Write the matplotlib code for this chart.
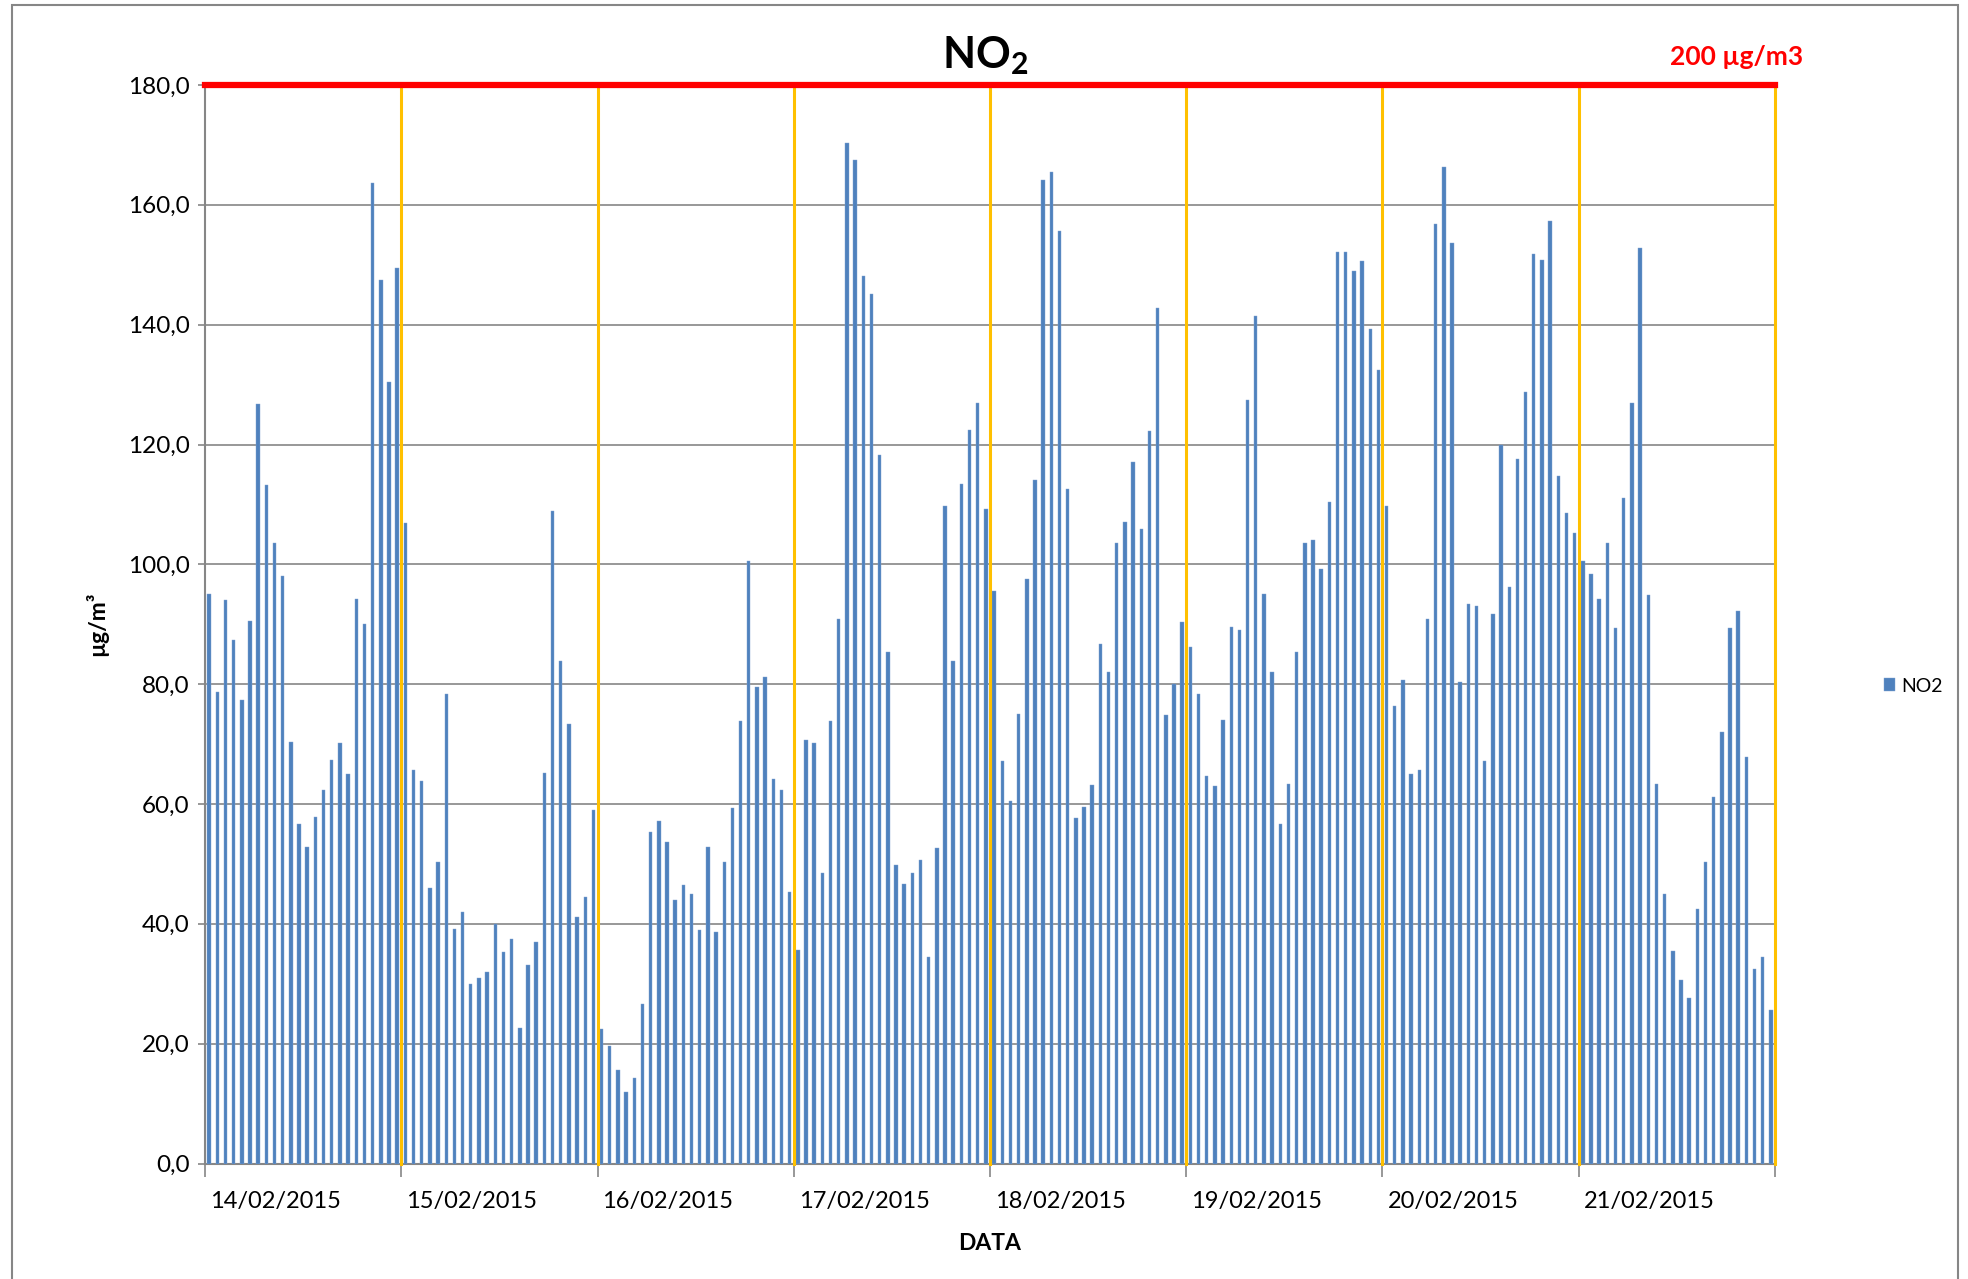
import numpy as np
import matplotlib
matplotlib.use("Agg")
from matplotlib import pyplot as plt
from matplotlib.patches import Rectangle

plt.rcParams['font.family'] = ['Lato', 'DejaVu Sans']
plt.rcParams['mathtext.fontset'] = 'custom'
plt.rcParams['mathtext.rm'] = 'Lato'
plt.rcParams['mathtext.bf'] = 'Lato:bold'

giorni = ['14/02/2015', '15/02/2015', '16/02/2015', '17/02/2015',
          '18/02/2015', '19/02/2015', '20/02/2015', '21/02/2015']

# valori orari NO2 (µg/m3), 24 per giorno
no2_14 = [95.0, 78.7, 94.1, 87.4, 77.3, 90.6, 126.7, 113.3, 103.5, 98.0, 70.4, 56.7,
          52.9, 57.9, 62.4, 67.3, 70.1, 65.0, 94.2, 90.1, 163.6, 147.5, 130.5, 149.4]
no2_15 = [106.9, 65.7, 63.9, 45.9, 50.4, 78.4, 39.2, 42.0, 30.0, 30.9, 32.0, 39.9,
          35.3, 37.5, 22.6, 33.2, 37.0, 65.2, 108.9, 83.9, 73.3, 41.1, 44.4, 59.0]
no2_16 = [22.4, 19.6, 15.6, 11.9, 14.3, 26.6, 55.4, 57.2, 53.7, 43.9, 46.4, 44.9,
          38.9, 52.8, 38.7, 50.4, 59.3, 73.8, 100.5, 79.6, 81.2, 64.2, 62.4, 45.3]
no2_17 = [35.7, 70.6, 70.1, 48.5, 73.9, 90.9, 170.3, 167.4, 148.1, 145.1, 118.3, 85.3,
          49.8, 46.6, 48.5, 50.7, 34.4, 52.7, 109.7, 83.8, 113.4, 122.5, 127.0, 109.3]
no2_18 = [95.6, 67.1, 60.5, 75.1, 97.6, 114.0, 164.1, 165.4, 155.6, 112.5, 57.6, 59.5,
          63.2, 86.7, 82.1, 103.5, 107.0, 117.1, 105.9, 122.3, 142.7, 74.9, 80.1, 90.4]
no2_19 = [86.2, 78.3, 64.6, 63.0, 74.1, 89.6, 89.1, 127.5, 141.5, 95.0, 82.1, 56.7,
          63.3, 85.3, 103.5, 104.1, 99.2, 110.4, 152.2, 152.2, 148.9, 150.6, 139.2, 132.4]
no2_20 = [109.7, 76.4, 80.7, 65.0, 65.7, 90.9, 156.8, 166.3, 153.6, 80.4, 93.3, 93.1,
          67.2, 91.7, 119.9, 96.2, 117.5, 128.7, 151.8, 150.8, 157.3, 114.7, 108.5, 105.2]
no2_21 = [100.5, 98.4, 94.2, 103.6, 89.3, 111.0, 127.0, 152.8, 94.9, 63.3, 44.9, 35.5,
          30.7, 27.7, 42.4, 50.4, 61.1, 72.0, 89.3, 92.2, 67.9, 32.4, 34.5, 25.6]

no2 = np.array(no2_14 + no2_15 + no2_16 + no2_17 + no2_18 + no2_19 + no2_20 + no2_21)
limite = 200
ore_giorno = 24

W, H = 1968, 1279
fig = plt.figure(figsize=(W / 100, H / 100), dpi=100)
ax = fig.add_axes([205 / W, 1 - 1163.5 / H, (1775 - 205) / W, (1163.5 - 85) / H])

x = np.arange(len(no2)) + 0.5
ax.bar(x, no2, width=0.42, color='#4F81BD', edgecolor='#7FA3D3', linewidth=0.3,
       label='NO2', zorder=3)

ax.set_xlim(0, len(no2))
ax.set_ylim(0, 180)
ax.set_yticks(np.arange(0, 181, 20))
ax.set_yticklabels([f'{v:.1f}'.replace('.', ',') for v in np.arange(0, 181, 20)],
                   fontsize=17.5)
ax.grid(axis='y', color='#868686', linewidth=1.2, zorder=1)
ax.set_axisbelow(True)

# linee verticali gialle tra i giorni
for d in range(1, len(giorni) + 1):
    ax.axvline(d * ore_giorno, color='#FFC000', linewidth=2.2, zorder=4, clip_on=False)

# linea rossa del limite
ax.axhline(180, color='#FF0000', linewidth=4.5, zorder=5, clip_on=False)
ax.text(1.0 + 28 / 1570, 1 + 28 / 1078, f'{limite} µg/m3', transform=ax.transAxes,
        ha='right', va='center', color='#FF0000', fontsize=19, fontweight='bold')

ax.set_xticks(np.arange(0, len(no2) + 1, ore_giorno))
ax.set_xticklabels([])
ax.set_xticks(np.arange(len(giorni)) * ore_giorno + 8.6, minor=True)
ax.set_xticklabels(giorni, minor=True, fontsize=17)
ax.tick_params(axis='x', which='minor', length=0, pad=20)
ax.tick_params(axis='x', which='major', length=9, color='#868686', width=1.2)
ax.tick_params(axis='y', length=5, color='#868686', width=1.2, pad=6)

for s in ['top', 'right']:
    ax.spines[s].set_visible(False)
for s in ['left', 'bottom']:
    ax.spines[s].set_color('#868686')
    ax.spines[s].set_linewidth(1.5)

ax.set_xlabel('DATA', fontsize=16.5, fontweight='bold', labelpad=15)
ax.set_ylabel('µg/m³', fontsize=16.5, fontweight='bold', labelpad=14)
fig.text(985 / W, 1 - 56 / H, r'$\mathbf{NO_2}$', ha='center', va='center', fontsize=31)

fig.legend(loc='center left', bbox_to_anchor=(1866 / W, 1 - 686 / H), frameon=False,
           fontsize=14, handlelength=0.6, handleheight=0.6, handletextpad=0.3)

fig.patches.append(Rectangle((12 / W, -0.05), (1958 - 12) / W, 1.05 - 5 / H,
                             transform=fig.transFigure, fill=False,
                             edgecolor='#868686', linewidth=1.5))

fig.savefig('out.png', dpi=100)
